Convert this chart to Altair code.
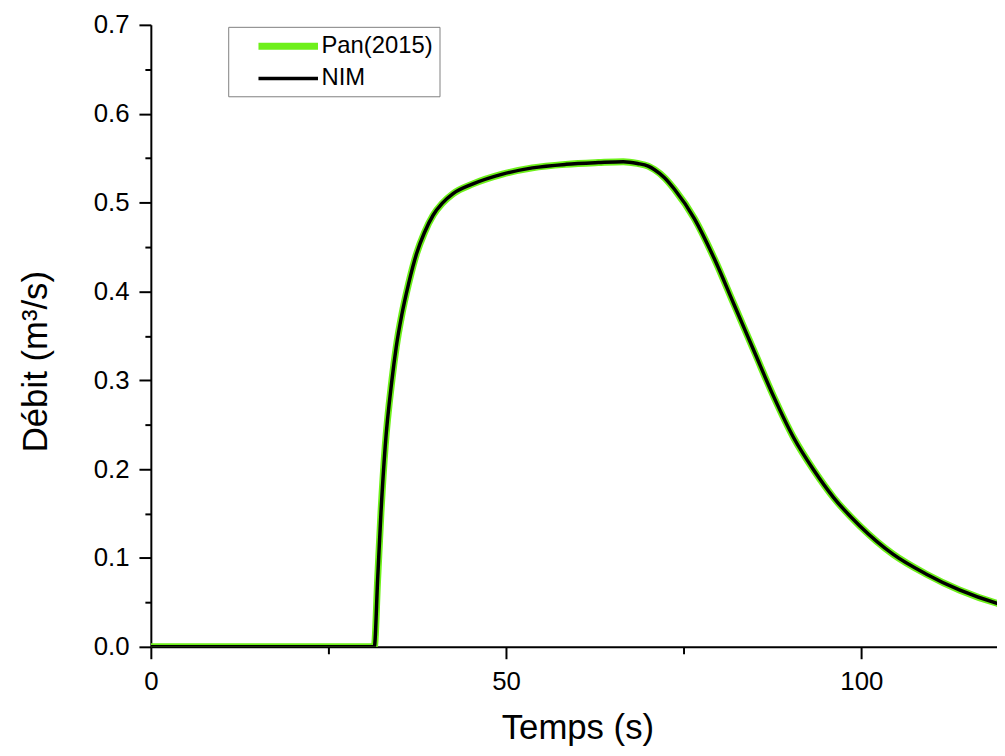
import altair as alt
import pandas as pd

series_names = ["Pan(2015)", "NIM"]

t_pan = [0, 31.45, 31.93, 32.39, 32.99, 33.93, 34.53, 35.33, 36.26, 37.42, 38.5, 39.75, 41.0,
         42.54, 45.34, 49.5, 53.7, 58.4, 63.0, 66.5, 68.5, 70.0, 70.9, 72.3, 73.7, 76.5, 79.3,
         82.1, 84.9, 87.7, 90.5, 93.3, 96.1, 99.8, 104.5, 109.1, 113.8, 119.1, 120]
q_pan = [0, 0, 0.077, 0.151, 0.226, 0.300, 0.337, 0.374, 0.408, 0.443, 0.466, 0.486, 0.499,
         0.510, 0.521, 0.532, 0.539, 0.543, 0.545, 0.546, 0.544, 0.541, 0.537, 0.528, 0.515,
         0.482, 0.437, 0.385, 0.333, 0.281, 0.235, 0.199, 0.168, 0.136, 0.104, 0.082, 0.064,
         0.049, 0.047]

t_nim = [0, 31.45, 31.93, 32.39, 32.99, 33.93, 34.53, 35.33, 36.26, 37.42, 38.5, 39.75, 41.0,
         42.54, 45.34, 49.5, 53.7, 58.4, 63.0, 66.5, 68.5, 70.0, 70.9, 72.3, 73.7, 76.5, 79.3,
         82.1, 84.9, 87.7, 90.5, 93.3, 96.1, 99.8, 104.5, 109.1, 113.8, 119.1, 120]
q_nim = [0, 0, 0.077, 0.151, 0.226, 0.300, 0.337, 0.374, 0.408, 0.443, 0.466, 0.486, 0.499,
         0.510, 0.521, 0.532, 0.539, 0.543, 0.545, 0.546, 0.544, 0.541, 0.537, 0.528, 0.515,
         0.482, 0.437, 0.385, 0.333, 0.281, 0.235, 0.199, 0.168, 0.136, 0.104, 0.082, 0.064,
         0.049, 0.047]

x_ticks = [0, 25, 50, 75, 100]
y_ticks = [0.0, 0.05, 0.1, 0.15, 0.2, 0.25, 0.3, 0.35, 0.4, 0.45, 0.5, 0.55, 0.6, 0.65, 0.7]

df_pan = pd.DataFrame({"t": t_pan, "q": q_pan, "series": series_names[0]})
df_nim = pd.DataFrame({"t": t_nim, "q": q_nim, "series": series_names[1]})

FONT = "Liberation Sans"

color_scale = alt.Scale(domain=series_names, range=["#6ef01a", "#000000"])
width_scale = alt.Scale(type="ordinal", domain=series_names, range=[7, 3.5])

legend = alt.Legend(
    orient="none", legendX=78, legendY=2, title=None,
    symbolType="M-3,0H3", symbolSize=400,
    labelFont=FONT, labelFontSize=24, labelColor="black",
    strokeColor="#808080", fillColor="white", padding=6,
    symbolOffset=41, labelOffset=20, rowPadding=6,
)

x_enc = alt.X(
    "t:Q",
    scale=alt.Scale(domain=[0, 119.1], nice=False, zero=False),
    axis=alt.Axis(
        values=x_ticks, format="d", title="Temps (s)",
        labelExpr="datum.value % 50 == 0 ? datum.label : ''",
        tickSize={"condition": {"test": "datum.value % 50 != 0", "value": 7}, "value": 12},
        labelPadding=10, labelFlush=False,
        titleX=430, titleY=92, titleBaseline="alphabetic", titleAnchor="middle",
    ),
)
y_enc = alt.Y(
    "q:Q",
    scale=alt.Scale(domain=[0, 0.7], nice=False),
    axis=alt.Axis(
        values=y_ticks, title="Débit (m³/s)",
        labelExpr="round(datum.value * 100) % 10 == 0 ? format(datum.value, '.1f') : ''",
        tickSize={"condition": {"test": "round(datum.value * 100) % 10 != 0", "value": 6}, "value": 12},
        labelPadding=10,
        titleAngle=-90, titleX=-105, titleY=339, titleAlign="center", titleBaseline="alphabetic",
    ),
)

def line(df):
    return alt.Chart(df).mark_line(clip=True, interpolate="monotone").encode(
        x=x_enc,
        y=y_enc,
        color=alt.Color("series:N", scale=color_scale, legend=legend),
        strokeWidth=alt.StrokeWidth("series:N", scale=width_scale, legend=legend),
    )

chart = (
    alt.layer(line(df_pan), line(df_nim))
    .properties(
        width=853, height=627,
        autosize=alt.AutoSizeParams(type="none"),
        padding={"left": 144, "top": 14, "right": 0, "bottom": 99},
        background="white",
    )
    .configure_axis(
        grid=False, domainColor="black", domainWidth=2, tickColor="black", tickWidth=2,
        labelFont=FONT, labelFontSize=26, labelColor="black",
        titleFont=FONT, titleFontSize=35, titleFontWeight="normal", titleColor="black",
    )
    .configure_view(strokeWidth=0)
)

chart.save("out.html", embed_options={"renderer": "svg", "actions": False})
